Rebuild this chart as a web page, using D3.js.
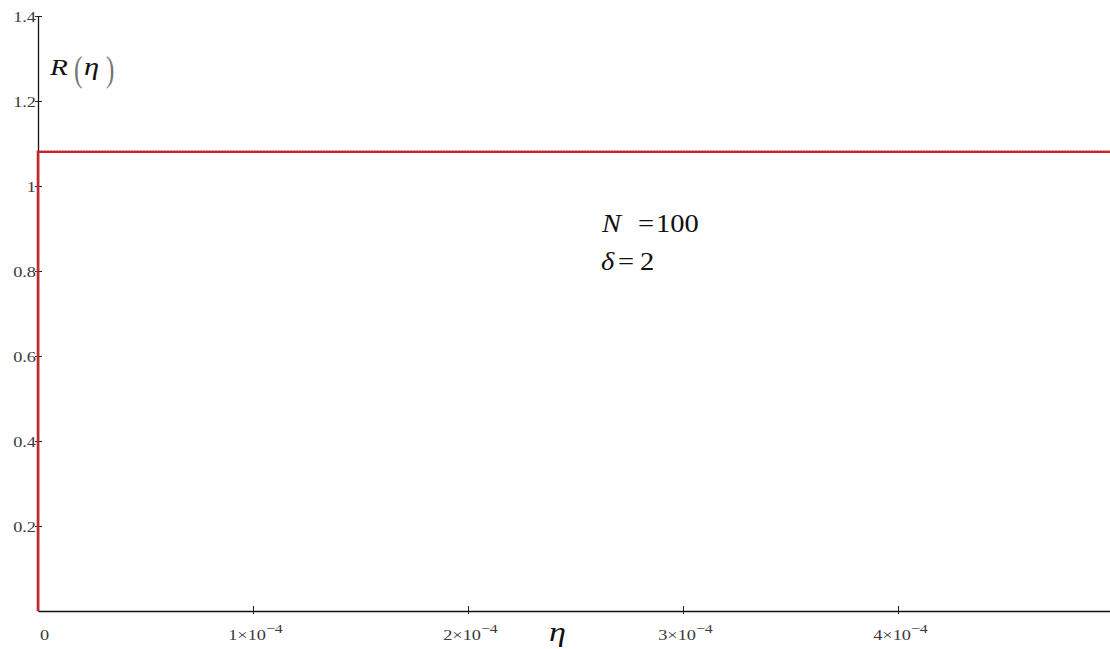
<!DOCTYPE html>
<html>
<head>
<meta charset="utf-8">
<script src="https://cdn.jsdelivr.net/npm/d3@7"></script>
<style>
  html, body { margin: 0; padding: 0; background: #fff; }
  svg { display: block; }
  .serif, .serif text { font-family: "Liberation Serif", "Times New Roman", "DejaVu Serif", serif; }
</style>
</head>
<body>
<svg id="chart" width="1110" height="649"></svg>
<script>
// R(eta) for N = 100, delta = 2: rises to its plateau right at eta = 0
const etaValues = [0, 0, 0.0000005, 0.0001, 0.0002, 0.0003, 0.0004, 0.0005];
const rValues   = [0, 1.0806, 1.0806, 1.0806, 1.0806, 1.0806, 1.0806, 1.0806];

const yTickValues = [0.2, 0.4, 0.6, 0.8, 1.0, 1.2, 1.4];
const yTickLabels = ["0.2", "0.4", "0.6", "0.8", "1", "1.2", "1.4"];
const xTickValues = [0, 0.0001, 0.0002, 0.0003, 0.0004];
const xTickMantissas = [null, "1", "2", "3", "4"];
const xTickExponent = "\u22124";

const svg = d3.select("#chart");
const W = 1110, H = 649;
const STRETCH = 1.22;   // the plot's text is set wide

const x = d3.scaleLinear().domain([0, 0.0005]).range([38, 1113]);
const y = d3.scaleLinear().domain([0, 1.4]).range([611, 16]);

const tickColor = "#3a3a3a";

// x axis
const gx = svg.append("g")
  .attr("class", "serif")
  .attr("transform", `translate(0,${y(0)})`)
  .call(d3.axisBottom(x).tickValues(xTickValues).tickFormat("").tickSizeOuter(0));
gx.attr("font-family", null).attr("font-size", null);
gx.select(".domain").attr("stroke", "#111").attr("stroke-width", 1.3);
gx.selectAll(".tick line").attr("y1", -5).attr("y2", 3).attr("stroke", "#222");
gx.selectAll(".tick").filter(d => d === 0).select("line").remove();
gx.selectAll(".tick text").remove();

gx.selectAll(".tick").each(function(d, i) {
  const t = d3.select(this).append("text")
    .attr("fill", tickColor)
    .style("font-size", "15px")
    .attr("text-anchor", "middle");
  if (d === 0) {
    t.attr("transform", `translate(6,29) scale(${STRETCH},1)`).text("0");
  } else {
    t.attr("transform", `translate(2,29) scale(${STRETCH},1)`);
    t.append("tspan").text(xTickMantissas[i] + "\u00d710");
    t.append("tspan").attr("dy", -7).style("font-size", "13px").text(xTickExponent);
  }
});

// y axis
const gy = svg.append("g")
  .attr("class", "serif")
  .attr("transform", `translate(${x(0)},0)`)
  .call(d3.axisLeft(y).tickValues(yTickValues)
    .tickFormat((d, i) => yTickLabels[i]).tickSizeOuter(0).tickPadding(0));
gy.attr("font-family", null).attr("font-size", null);
gy.select(".domain").attr("stroke", "#111").attr("stroke-width", 1.3);
gy.selectAll(".tick line").attr("x1", -3).attr("x2", 4).attr("stroke", "#222");
gy.selectAll(".tick text")
  .attr("x", null).attr("dy", null)
  .attr("transform", `translate(-2,5) scale(${STRETCH},1)`)
  .attr("fill", tickColor)
  .style("font-size", "15px");

// curve
const line = d3.line().x((d, i) => x(etaValues[i])).y((d, i) => y(rValues[i]));
svg.append("path")
  .datum(rValues)
  .attr("d", line)
  .attr("fill", "none")
  .attr("stroke", "#c4262c")
  .attr("stroke-width", 2.6);
// light dotted sheen along the plateau
svg.append("line")
  .attr("x1", x(0) + 2).attr("x2", W)
  .attr("y1", y(1.0806) - 1.2).attr("y2", y(1.0806) - 1.2)
  .attr("stroke", "#f3d6d6").attr("stroke-width", 0.8)
  .attr("stroke-dasharray", "1,2");

// wide-set text piece
function put(g, str, px, py, size, opts = {}) {
  const t = g.append("text")
    .attr("transform", `translate(${px},${py}) scale(${opts.sx || STRETCH},${opts.sy || 1})`)
    .style("font-size", size + "px")
    .text(str);
  if (opts.italic) t.style("font-style", "italic");
  if (opts.fill) t.attr("fill", opts.fill);
  return t;
}

// axis titles
const xl = svg.append("g").attr("class", "serif").attr("fill", "#111");
put(xl, "\u03b7", 549, 641, 28, { italic: true });

const yl = svg.append("g").attr("class", "serif").attr("fill", "#111");
put(yl, "R", 50, 75, 24, { italic: true });
put(yl, "(", 74, 81, 36, { sx: 0.7, fill: "#777" });
put(yl, "\u03b7", 84, 75, 25, { italic: true });
put(yl, ")", 106, 81, 36, { sx: 0.7, fill: "#777" });

// parameter annotation
const ann = svg.append("g").attr("class", "serif").attr("fill", "#111");
const annSize = 25, annOpts = { sx: 1.14 };
put(ann, "N", 602, 232, annSize, { ...annOpts, italic: true });
put(ann, "=", 638, 232, annSize, annOpts);
put(ann, "100", 656, 232, annSize, annOpts);
put(ann, "\u03b4", 601, 270, annSize, { ...annOpts, italic: true });
put(ann, "=", 618, 270, annSize, annOpts);
put(ann, "2", 640, 270, annSize, annOpts);
</script>
</body>
</html>
